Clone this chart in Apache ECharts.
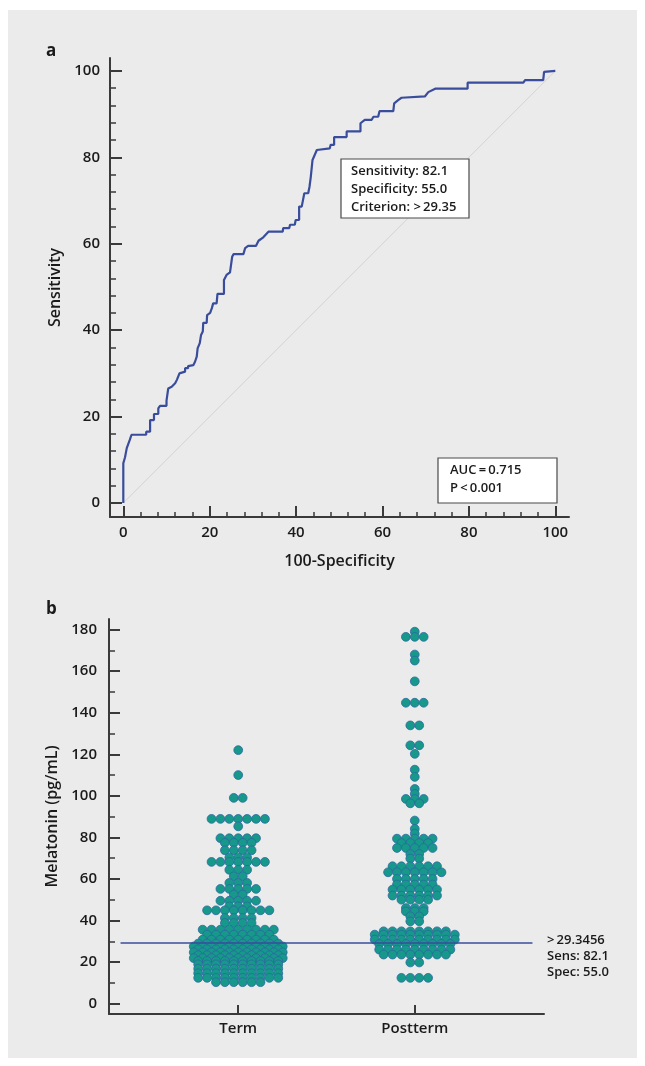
<!DOCTYPE html>
<html><head><meta charset="utf-8">
<script src="https://cdn.jsdelivr.net/npm/echarts@6/dist/echarts.min.js"></script>
<style>
html,body{margin:0;padding:0;background:#ffffff;}
#bg{position:absolute;left:8px;top:10px;width:629px;height:1048px;background:#ebebeb;}
#c{position:absolute;left:0;top:0;width:645px;height:1066px;}
</style></head>
<body><div id="bg"></div><div id="c"></div>
<script>
// ---------- Panel a: ROC curve (100-Specificity, Sensitivity) ----------
const rocPoints = [
  [0,0],[0,9.2],[0.4,9.2],[0.4,10.6],[0.8,10.6],[0.8,12.7],[1.2,12.7],[1.2,13.8],[1.5,14.6],[1.9,15.8],
  [5.3,15.8],[5.3,16.5],[6.2,16.5],[6.2,19.2],[7.1,19.2],[7.1,20.6],[8.1,20.6],[8.1,21.9],[8.5,22.5],
  [10.0,22.5],[10.0,23.7],[10.4,23.7],[10.4,26.5],[11.2,26.9],[12.0,27.7],[12.4,28.5],[13.0,30.0],[13.1,30.4],
  [14.3,30.4],[14.3,31.2],[15.0,31.2],[15.0,31.7],[16.2,31.9],[16.6,32.7],[17.0,33.9],[17.2,35.8],[17.7,37.0],
  [18.0,38.9],[18.4,39.7],[18.5,41.7],[19.3,41.7],[19.4,43.5],[20.1,44.0],[20.5,45.1],[20.8,46.2],[21.6,46.2],
  [21.8,48.4],[23.3,48.4],[23.3,51.6],[23.9,52.8],[24.7,53.4],[25.0,53.4],[25.2,57.0],[25.5,57.6],[27.8,57.6],
  [28.2,59.0],[28.9,59.5],[30.7,59.5],[31.3,60.7],[32.4,61.5],[33.6,62.8],[36.9,62.8],[37.0,63.6],[38.4,63.6],
  [38.6,64.4],[39.7,64.4],[39.9,65.5],[40.7,65.5],[40.7,68.6],[41.3,68.6],[41.9,71.7],[42.8,71.7],[43.1,73.2],
  [43.4,75.5],[43.8,79.4],[44.2,79.8],[44.8,81.7],[44.9,82.1],[47.8,82.1],[48.0,82.9],[48.8,82.9],[48.8,84.7],
  [51.7,84.7],[51.7,86.0],[54.9,86.0],[54.9,87.9],[55.9,88.7],[57.5,88.7],[57.9,89.4],[59.0,89.4],[59.3,90.7],
  [62.5,90.7],[62.7,92.5],[63.7,93.3],[64.4,93.8],[69.8,94.1],[70.6,95.1],[72.2,95.9],[79.7,95.9],[79.7,97.3],
  [92.6,97.3],[93.0,97.9],[97.2,97.9],[97.4,99.8],[97.4,100],[100,100]
];
const diagonalPoints = [[0,0],[100,100]];
const rocMajorTicks = [0,20,40,60,80,100];
const rocMinorTicks = [4,8,12,16,24,28,32,36,44,48,52,56,64,68,72,76,84,88,92,96];
const rocBoxLines = ['Sensitivity: 82.1','Specificity: 55.0','Criterion: >\u200929.35'];
const aucBoxLines = ['AUC\u2009=\u20090.715','P\u2009<\u20090.001'];

// ---------- Panel b: Melatonin dot plot ----------
const groupNames = ['Term','Postterm'];
const termValues = [
  122,110,99.0,99.0,
  88.9,88.9,88.9,88.9,88.9,88.9,88.9,85.3,
  79.6,79.6,79.6,79.6,79.6,77.4,77.4,77.4,77.4,73.8,73.8,73.8,73.8,70.3,70.3,70.3,
  68.2,68.2,68.2,68.2,68.2,68.2,68.2,64.4,64.4,64.4,61.3,61.3,58.1,58.1,58.1,
  55.2,55.2,55.2,55.2,55.2,52.5,52.5,49.5,49.5,49.5,49.5,49.5,46.8,46.8,46.8,
  44.9,44.9,44.9,44.9,44.9,44.9,44.9,44.9,41.2,41.2,41.2,41.2,38.8,38.8,38.8,38.8,
  35.6,35.6,35.6,35.6,35.6,35.6,35.6,35.6,35.6,33.2,33.2,33.2,33.2,33.2,33.2,33.2,33.2,
  30.8,30.8,30.8,30.8,30.8,30.8,30.8,30.8,30.8,
  28.9,28.9,28.9,28.9,28.9,28.9,28.9,28.9,28.9,28.9,
  27.5,27.5,27.5,27.5,27.5,27.5,27.5,27.5,27.5,27.5,27.5,
  26.1,26.1,26.1,26.1,26.1,26.1,26.1,26.1,26.1,26.1,
  24.7,24.7,24.7,24.7,24.7,24.7,24.7,24.7,24.7,24.7,24.7,
  23.3,23.3,23.3,23.3,23.3,23.3,23.3,23.3,23.3,23.3,
  21.9,21.9,21.9,21.9,21.9,21.9,21.9,21.9,21.9,21.9,21.9,
  20.5,20.5,20.5,20.5,20.5,20.5,20.5,20.5,20.5,20.5,
  18.9,18.9,18.9,18.9,18.9,18.9,18.9,18.9,18.9,18.9,
  16.8,16.8,16.8,16.8,16.8,16.8,16.8,16.8,16.8,16.8,
  14.6,14.6,14.6,14.6,14.6,14.6,14.6,14.6,14.6,14.6,
  12.4,12.4,12.4,12.4,12.4,12.4,12.4,12.4,12.4,12.4,
  10.3,10.3,10.3,10.3,10.3,10.3
];
const posttermValues = [
  179.0,176.5,176.5,176.5,168.0,165.1,155.1,144.8,144.8,144.8,133.9,133.9,124.3,124.3,120.2,
  112.6,109.1,103.3,100.9,98.5,98.5,98.5,96.4,96.4,88.1,84.1,81.8,
  79.4,79.4,79.4,79.4,79.4,77.3,77.3,77.3,77.3,74.9,74.9,74.9,74.9,74.9,72.0,72.0,69.8,69.8,
  66.1,66.1,66.1,66.1,66.1,66.1,63.2,63.2,63.2,63.2,63.2,63.2,63.2,60.0,60.0,60.0,60.0,60.0,
  57.3,57.3,57.3,57.3,57.3,54.9,54.9,54.9,54.9,54.9,54.9,52.0,52.0,52.0,52.0,52.0,52.0,
  50.0,50.0,50.0,50.0,46.0,46.0,46.0,44.4,44.4,44.4,42.0,42.0,39.6,39.6,
  34.8,34.8,34.8,34.8,34.8,34.8,34.8,34.8,
  33.2,33.2,33.2,33.2,33.2,33.2,33.2,33.2,33.2,33.2,
  30.8,30.8,30.8,30.8,30.8,30.8,30.8,30.8,30.8,30.8,
  28.7,28.7,28.7,28.7,28.7,28.7,28.7,28.7,28.7,
  26.0,26.0,26.0,26.0,26.0,26.0,26.0,26.0,26.0,
  23.6,23.6,23.6,23.6,23.6,23.6,23.6,23.6,
  19.8,19.8,12.4,12.4,12.4,12.4
];
const melMajorTicks = [0,20,40,60,80,100,120,140,160,180];
const melMinorTicks = [10,30,50,70,90,110,130,150,170];
const criterionValue = 29.3456;
const criterionLines = ['>\u200929.3456','Sens: 82.1','Spec: 55.0'];

// ---------- styling ----------
const FONT = "'Open Sans', 'Noto Sans', sans-serif";
const AX = '#3a3a3a';
const TXT = '#1a1a1a';
const DOT_GAP = 8.9; // px between neighbouring dots in a row

function baseAxis(gridIndex, min, max, extra) {
  return Object.assign({
    type: 'value', gridIndex, min, max,
    axisLine: {show: true, onZero: false, lineStyle: {color: AX, width: 2}},
    splitLine: {show: false},
  }, extra);
}
function majorAxis(gridIndex, min, max, ticks, len, margin, extra) {
  return baseAxis(gridIndex, min, max, Object.assign({
    axisTick: {show: true, inside: true, length: len, customValues: ticks, lineStyle: {color: AX, width: 2}},
    axisLabel: {show: true, customValues: ticks, margin, color: TXT, fontFamily: FONT, fontSize: 15, fontWeight: 600},
    nameTextStyle: {color: TXT, fontFamily: FONT, fontSize: 16, fontWeight: 600},
    nameLocation: 'middle'
  }, extra));
}
function minorAxis(gridIndex, min, max, ticks, len, position) {
  return baseAxis(gridIndex, min, max, {
    position,
    axisLine: {show: false, onZero: false},
    axisTick: {show: true, inside: true, length: len, customValues: ticks, lineStyle: {color: AX, width: 1.5}},
    axisLabel: {show: false}
  });
}

const option = {
  animation: false,
  backgroundColor: 'transparent',
  grid: [
    {left: 110, right: 76, top: 58, bottom: 549},
    {left: 109, right: 101, top: 619, bottom: 52}
  ],
  xAxis: [
    majorAxis(0, -3.08, 103.17, rocMajorTicks, 11, 8, {position: 'bottom', name: '100-Specificity', nameGap: 36}),
    minorAxis(0, -3.08, 103.17, rocMinorTicks, 5, 'bottom'),
    majorAxis(1, 0.268, 2.732, [1, 2], 9, 7, {position: 'bottom',
      axisLabel: {show: true, customValues: [1, 2], margin: 7, color: TXT, fontFamily: FONT, fontSize: 15, fontWeight: 600,
        formatter: v => groupNames[Math.round(v) - 1]}})
  ],
  yAxis: [
    majorAxis(0, -3.24, 103.0, rocMajorTicks, 12, 10, {position: 'left', name: 'Sensitivity', nameGap: 41}),
    minorAxis(0, -3.24, 103.0, rocMinorTicks, 6, 'left'),
    majorAxis(1, -5, 185.1, melMajorTicks, 11, 12, {position: 'left', name: 'Melatonin (pg/mL)', nameGap: 39}),
    minorAxis(1, -5, 185.1, melMinorTicks, 6, 'left')
  ],
  series: [
    {type: 'line', name: 'reference', xAxisIndex: 0, yAxisIndex: 0, data: diagonalPoints, symbol: 'none',
      lineStyle: {color: '#d2d2d2', width: 1}, z: 2, silent: true},
    {type: 'line', name: 'ROC', xAxisIndex: 0, yAxisIndex: 0, data: rocPoints, symbol: 'none',
      lineStyle: {color: '#3a4d9c', width: 2.2}, z: 3, clip: false},
    {type: 'scatter', id: 'dots', xAxisIndex: 2, yAxisIndex: 2, data: [], symbolSize: 8.8,
      itemStyle: {color: '#16988a', borderColor: '#2c68a0', borderWidth: 0.8, opacity: 1}, z: 3,
      markLine: {silent: true, symbol: 'none', label: {show: false},
        lineStyle: {color: '#3a4d9c', width: 1.5, type: 'solid'},
        data: [[{coord: [1 - 2/3, criterionValue]}, {coord: [2 + 2/3, criterionValue]}]]}
    }
  ],
  graphic: [
    {type: 'text', left: 46, top: 43, style: {text: 'a', font: `700 17px ${FONT}`, fill: TXT}},
    {type: 'text', left: 46, top: 601, style: {text: 'b', font: `700 17px ${FONT}`, fill: TXT}},
    {type: 'rect', shape: {x: 341, y: 159, width: 128, height: 59}, style: {fill: '#ffffff', stroke: '#4a4a4a', lineWidth: 1.2}, z: 10},
    {type: 'text', x: 351, y: 162, z: 11, style: {text: rocBoxLines.join('\n'), font: `600 13px ${FONT}`, fill: TXT, lineHeight: 18, verticalAlign: 'top'}},
    {type: 'rect', shape: {x: 438, y: 458, width: 119, height: 45}, style: {fill: '#ffffff', stroke: '#4a4a4a', lineWidth: 1.2}, z: 10},
    {type: 'text', x: 450, y: 461, z: 11, style: {text: aucBoxLines.join('\n'), font: `600 13px ${FONT}`, fill: TXT, lineHeight: 18, verticalAlign: 'top'}},
    {type: 'text', x: 547, y: 932, z: 11, style: {text: criterionLines.join('\n'), font: `600 13px ${FONT}`, fill: TXT, lineHeight: 16, verticalAlign: 'top'}}
  ]
};

const chart = echarts.init(document.getElementById('c'));
chart.setOption(option);

// beeswarm-style rows: equal values share a row, spread evenly around the group centre
function layoutDots(values, center, unitsPerPx) {
  const rows = new Map();
  values.forEach(v => {
    const k = v.toFixed(2);
    if (!rows.has(k)) rows.set(k, []);
    rows.get(k).push(v);
  });
  const pts = [];
  rows.forEach(arr => {
    const n = arr.length;
    arr.forEach((v, i) => pts.push([center + (i - (n - 1) / 2) * DOT_GAP * unitsPerPx, v]));
  });
  return pts;
}
const px1 = chart.convertToPixel({xAxisIndex: 2}, 1);
const px2 = chart.convertToPixel({xAxisIndex: 2}, 2);
const unitsPerPx = 1 / (px2 - px1);
chart.setOption({series: [{id: 'dots', data: layoutDots(termValues, 1, unitsPerPx).concat(layoutDots(posttermValues, 2, unitsPerPx))}]});
</script>
</body></html>
